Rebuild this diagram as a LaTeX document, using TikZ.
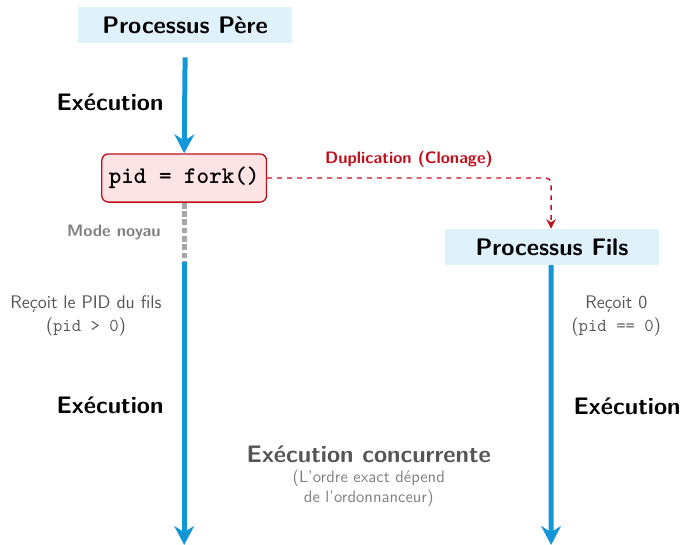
\documentclass[tikz,border=0pt]{standalone}
\definecolor{forkblue}{HTML}{1196D8}
\definecolor{forkpale}{HTML}{DFF1FA}
\definecolor{forkred}{HTML}{C0101C}
\definecolor{forkpink}{HTML}{FDE4E4}
\definecolor{forkgray}{HTML}{555555}
\usepackage{tikz}
\usetikzlibrary{arrows.meta, positioning}
\tikzset{
   procbox/.style={fill=forkpale, minimum width=4.53cm, minimum height=0.76cm, font=\sffamily\bfseries\Large},
   flow/.style={forkblue, line width=3pt, -{Stealth[length=4mm, width=4.2mm]}},
   execlbl/.style={font=\sffamily\bfseries\Large},
   sidelbl/.style={font=\sffamily\fontsize{11}{13.5}\selectfont, text=forkgray, align=center}
}
\begin{document}
\begin{tikzpicture}
            \useasboundingbox (0,0) rectangle (14.4,11.54);
            % Processes
            \node[procbox] (pere) at (3.92,11.01) {Processus Père};
            \node[draw=forkred, fill=forkpink, thick, rounded corners=4pt,
               minimum width=3.49cm, minimum height=1.02cm,
               font=\ttfamily\bfseries\Large] (fork) at (3.90,7.77) {pid = fork()};
            \node[procbox] (fils) at (11.69,6.31) {Processus Fils};
            % Free ends
            \coordinate (noyau) at (3.90,5.99);
            \coordinate (pereend) at (3.90,0.0);
            \coordinate (filsend) at (11.67,0.0);
            % Parent flow
            \draw[flow] ([yshift=-0.3cm]pere.south) -- (fork.north);
            \draw[line width=3pt, draw=gray!70, dash pattern=on 3.5pt off 1.5pt] (fork.south) -- (noyau);
            \draw[flow] (noyau) -- (pereend);
            % Child flow
            \draw[flow] ([xshift=-0.02cm]fils.south) -- (filsend);
            % Duplication
            \draw[forkred, thick, dashed, rounded corners=3pt, -{Stealth[length=2mm, width=2mm]}]
               (fork.east) -| (fils.north -| filsend);
            \node[font=\sffamily\bfseries\normalsize, text=forkred] (dup) at (8.66,8.17) {Duplication (Clonage)};
            % Labels
            \node[execlbl] (exec1) at (2.33,9.38) {Exécution};
            \node[font=\sffamily\bfseries\normalsize, text=gray] (mode) at (2.41,6.61) {Mode noyau};
            \node[sidelbl] (recpere) at (1.82,4.85) {Reçoit le PID du fils\\(\texttt{pid > 0})};
            \node[execlbl] (exec2) at (2.33,2.96) {Exécution};
            \node[sidelbl] (recfils) at (13.05,4.85) {Reçoit 0\\(\texttt{pid == 0})};
            \node[execlbl] (exec3) at (13.28,2.94) {Exécution};
            \node[font=\sffamily\bfseries\Large, text=forkgray] (conc) at (7.81,1.91) {Exécution concurrente};
            \node[font=\sffamily\normalsize, text=gray, align=center, below=-0.1cm of conc] (ordre) {(L'ordre exact dépend\\de l'ordonnanceur)};
         \end{tikzpicture}
\end{document}
